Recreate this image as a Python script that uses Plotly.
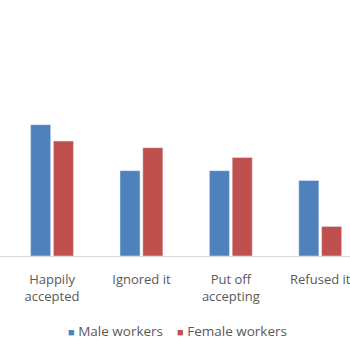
import plotly.graph_objects as go

# Responses to the offer, by group (percent of respondents)
categories = ["Happily<br>accepted", "Ignored it", "Put off<br>accepting", "Refused it"]
male_workers = [40, 26, 26, 23]
female_workers = [35, 33, 30, 9]
series_names = ["Male workers", "Female workers"]

BLUE = "#4F81BD"
RED = "#C0504D"
GREY_TEXT = "#595959"
FONT = "Open Sans"

fig = go.Figure()
fig.add_trace(go.Bar(x=categories, y=male_workers, name=series_names[0],
                     marker_color=BLUE, showlegend=False))
fig.add_trace(go.Bar(x=categories, y=female_workers, name=series_names[1],
                     marker_color=RED, showlegend=False))

# Legend drawn as a single line of text with coloured squares
legend_text = (f'<span style="color:{BLUE};font-size:11px">■</span> {series_names[0]}'
               f'&nbsp;&nbsp;&nbsp;&nbsp;<span style="color:{RED};font-size:11px">■</span> {series_names[1]}')
fig.add_annotation(text=legend_text, xref="paper", yref="paper",
                   x=0.508, y=-0.382, xanchor="center", yanchor="middle",
                   showarrow=False, font=dict(family=FONT, size=13.5, color=GREY_TEXT))

fig.update_layout(
    width=350, height=350,
    margin=dict(l=0, r=0, t=58.5, b=93.5),
    paper_bgcolor="white", plot_bgcolor="white",
    barmode="group", bargap=0.49, bargroupgap=0.12,
    font=dict(family=FONT, size=13, color=GREY_TEXT),
    xaxis=dict(range=[-0.582, 3.333], showline=True, linecolor="#D9D9D9",
               linewidth=1, showgrid=False, zeroline=False,
               ticks="outside", ticklen=11, tickcolor="rgba(0,0,0,0)",
               tickfont=dict(family=FONT, size=13, color=GREY_TEXT)),
    yaxis=dict(range=[0, 60], visible=False, showgrid=False, zeroline=False),
)

fig.write_html("out.html")
